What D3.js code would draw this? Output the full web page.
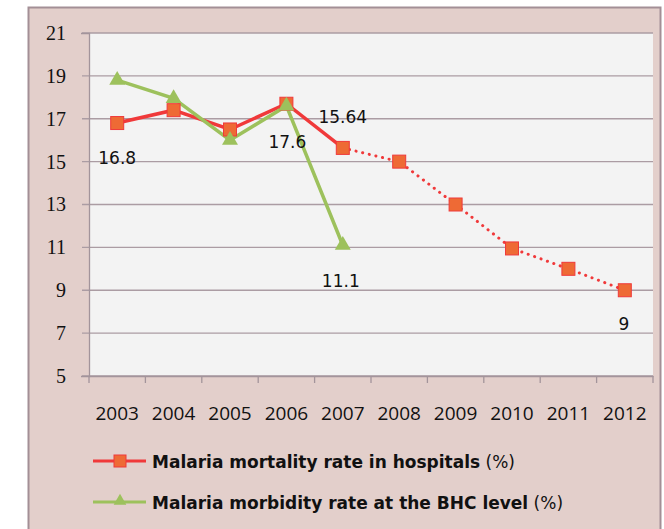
<!DOCTYPE html>
<html>
<head>
<meta charset="utf-8">
<script src="https://cdn.jsdelivr.net/npm/d3@7"></script>
<style>
  body { margin: 0; background: #fff; }
</style>
</head>
<body>
<svg id="chart" width="664" height="529"></svg>
<script>
// Chart data
const years = ['2003', '2004', '2005', '2006', '2007', '2008', '2009', '2010', '2011', '2012'];
const mortality = [16.8, 17.4, 16.5, 17.7, 15.64, 15.0, 13.0, 10.95, 10.0, 9.0];
const morbidity = [18.8, 17.95, 16.0, 17.6, 11.1];
const yTicks = [5, 7, 9, 11, 13, 15, 17, 19, 21];
const mortalityLabels = [
  { i: 0, text: '16.8' },
  { i: 4, text: '15.64' },
  { i: 9, text: '9' }
];
const morbidityLabels = [
  { i: 3, text: '17.6' },
  { i: 4, text: '11.1' }
];
const legendItems = ['Malaria mortality rate in hospitals', 'Malaria morbidity rate at the BHC level'];

const svg = d3.select('#chart');
const plot = { left: 89, right: 653, top: 33, bottom: 376 };

// outer frame
svg.append('rect')
  .attr('x', 28.5).attr('y', 7.5)
  .attr('width', 632).attr('height', 530)
  .attr('fill', '#e3cfcb')
  .attr('stroke', '#a38f96')
  .attr('stroke-width', 2);

svg.append('rect')
  .attr('x', plot.left).attr('y', plot.top)
  .attr('width', plot.right - plot.left).attr('height', plot.bottom - plot.top)
  .attr('fill', '#f3f3f3');

const x = d3.scaleBand().domain(years).range([plot.left, plot.right]);
const y = d3.scaleLinear().domain([5, 21]).range([plot.bottom, plot.top]);
const cx = d => x(d) + x.bandwidth() / 2;

// grid lines
svg.append('g')
  .selectAll('line')
  .data(yTicks)
  .join('line')
  .attr('x1', plot.left - 7).attr('x2', plot.right)
  .attr('y1', d => y(d)).attr('y2', d => y(d))
  .attr('stroke', '#ab9ca3')
  .attr('stroke-width', 1.3);

// y axis
const yAxis = svg.append('g')
  .attr('transform', `translate(${plot.left},0)`)
  .call(d3.axisLeft(y).tickValues(yTicks).tickSize(8).tickPadding(15));
yAxis.select('.domain').attr('stroke', '#a3949b').attr('stroke-width', 1.3);
yAxis.selectAll('.tick line').remove();
yAxis.selectAll('text')
  .attr('font-family', 'Liberation Serif, serif')
  .attr('font-size', 20)
  .attr('fill', '#111');

// x axis
const xAxis = svg.append('g')
  .attr('transform', `translate(0,${plot.bottom})`)
  .call(d3.axisBottom(x).tickSize(0).tickPadding(31));
xAxis.select('.domain').attr('stroke', '#a3949b').attr('stroke-width', 1.3);
xAxis.selectAll('text')
  .attr('font-family', 'Open Sans, sans-serif')
  .attr('font-size', 19)
  .attr('fill', '#111');
svg.append('g')
  .selectAll('line')
  .data(d3.range(years.length + 1))
  .join('line')
  .attr('x1', i => plot.left + i * x.bandwidth())
  .attr('x2', i => plot.left + i * x.bandwidth())
  .attr('y1', plot.bottom).attr('y2', plot.bottom + 7)
  .attr('stroke', '#a3949b').attr('stroke-width', 1.3);

const line = d3.line().x(d => cx(d.year)).y(d => y(d.value));
const mortPts = years.map((yr, i) => ({ year: yr, value: mortality[i] }));
const morbPts = morbidity.map((v, i) => ({ year: years[i], value: v }));

const red = '#f0393a';
const orange = '#ee6a35';
const green = '#9dc15c';

svg.append('path')
  .datum(mortPts.slice(0, 5))
  .attr('d', line)
  .attr('fill', 'none')
  .attr('stroke', red)
  .attr('stroke-width', 3.5);

svg.append('path')
  .datum(mortPts.slice(4))
  .attr('d', line)
  .attr('fill', 'none')
  .attr('stroke', red)
  .attr('stroke-width', 3)
  .attr('stroke-linecap', 'round')
  .attr('stroke-dasharray', '0.1 6.7');

svg.append('path')
  .datum(morbPts)
  .attr('d', line)
  .attr('fill', 'none')
  .attr('stroke', green)
  .attr('stroke-width', 3.5);

svg.append('g')
  .selectAll('rect')
  .data(mortPts)
  .join('rect')
  .attr('x', d => cx(d.year) - 6.5)
  .attr('y', d => y(d.value) - 6.5)
  .attr('width', 13).attr('height', 13)
  .attr('fill', orange)
  .attr('stroke', red)
  .attr('stroke-width', 1);

const tri = d3.symbol().type(d3.symbolTriangle).size(110);
svg.append('g')
  .selectAll('path')
  .data(morbPts)
  .join('path')
  .attr('transform', d => `translate(${cx(d.year)},${y(d.value)})`)
  .attr('d', tri)
  .attr('fill', green);

// data labels
const labelFont = 'DejaVu Sans, Verdana, sans-serif';
const labelOffsets = { '16.8': [0, 41], '15.64': [0, -25], '9': [-1, 40], '17.6': [1, 42], '11.1': [-2, 42] };
const allLabels = mortalityLabels.map(l => ({ ...l, v: mortality[l.i] }))
  .concat(morbidityLabels.map(l => ({ ...l, v: morbidity[l.i] })));
svg.append('g')
  .selectAll('text')
  .data(allLabels)
  .join('text')
  .attr('x', d => cx(years[d.i]) + labelOffsets[d.text][0])
  .attr('y', d => y(d.v) + labelOffsets[d.text][1])
  .attr('text-anchor', 'middle')
  .attr('font-family', labelFont)
  .attr('font-size', 17)
  .attr('fill', '#111')
  .text(d => d.text);

// legend
const legend = svg.append('g');
const legendY = [461, 502];
legendItems.forEach((name, i) => {
  const g = legend.append('g').attr('transform', `translate(0,${legendY[i]})`);
  g.append('line')
    .attr('x1', 93).attr('x2', 146)
    .attr('stroke', i === 0 ? red : green)
    .attr('stroke-width', 3);
  if (i === 0) {
    g.append('rect')
      .attr('x', 114).attr('y', -6).attr('width', 12).attr('height', 12)
      .attr('fill', orange).attr('stroke', red);
  } else {
    g.append('path')
      .attr('transform', 'translate(120,-1)')
      .attr('d', d3.symbol().type(d3.symbolTriangle).size(70))
      .attr('fill', green);
  }
  const t = g.append('text')
    .attr('x', 152).attr('y', 6.5)
    .attr('font-family', 'DejaVu Sans, sans-serif')
    .attr('font-size', 17)
    .attr('fill', '#111');
  t.append('tspan').attr('font-weight', 'bold').text(name);
  t.append('tspan').text(' (%)');
});
</script>
</body>
</html>
